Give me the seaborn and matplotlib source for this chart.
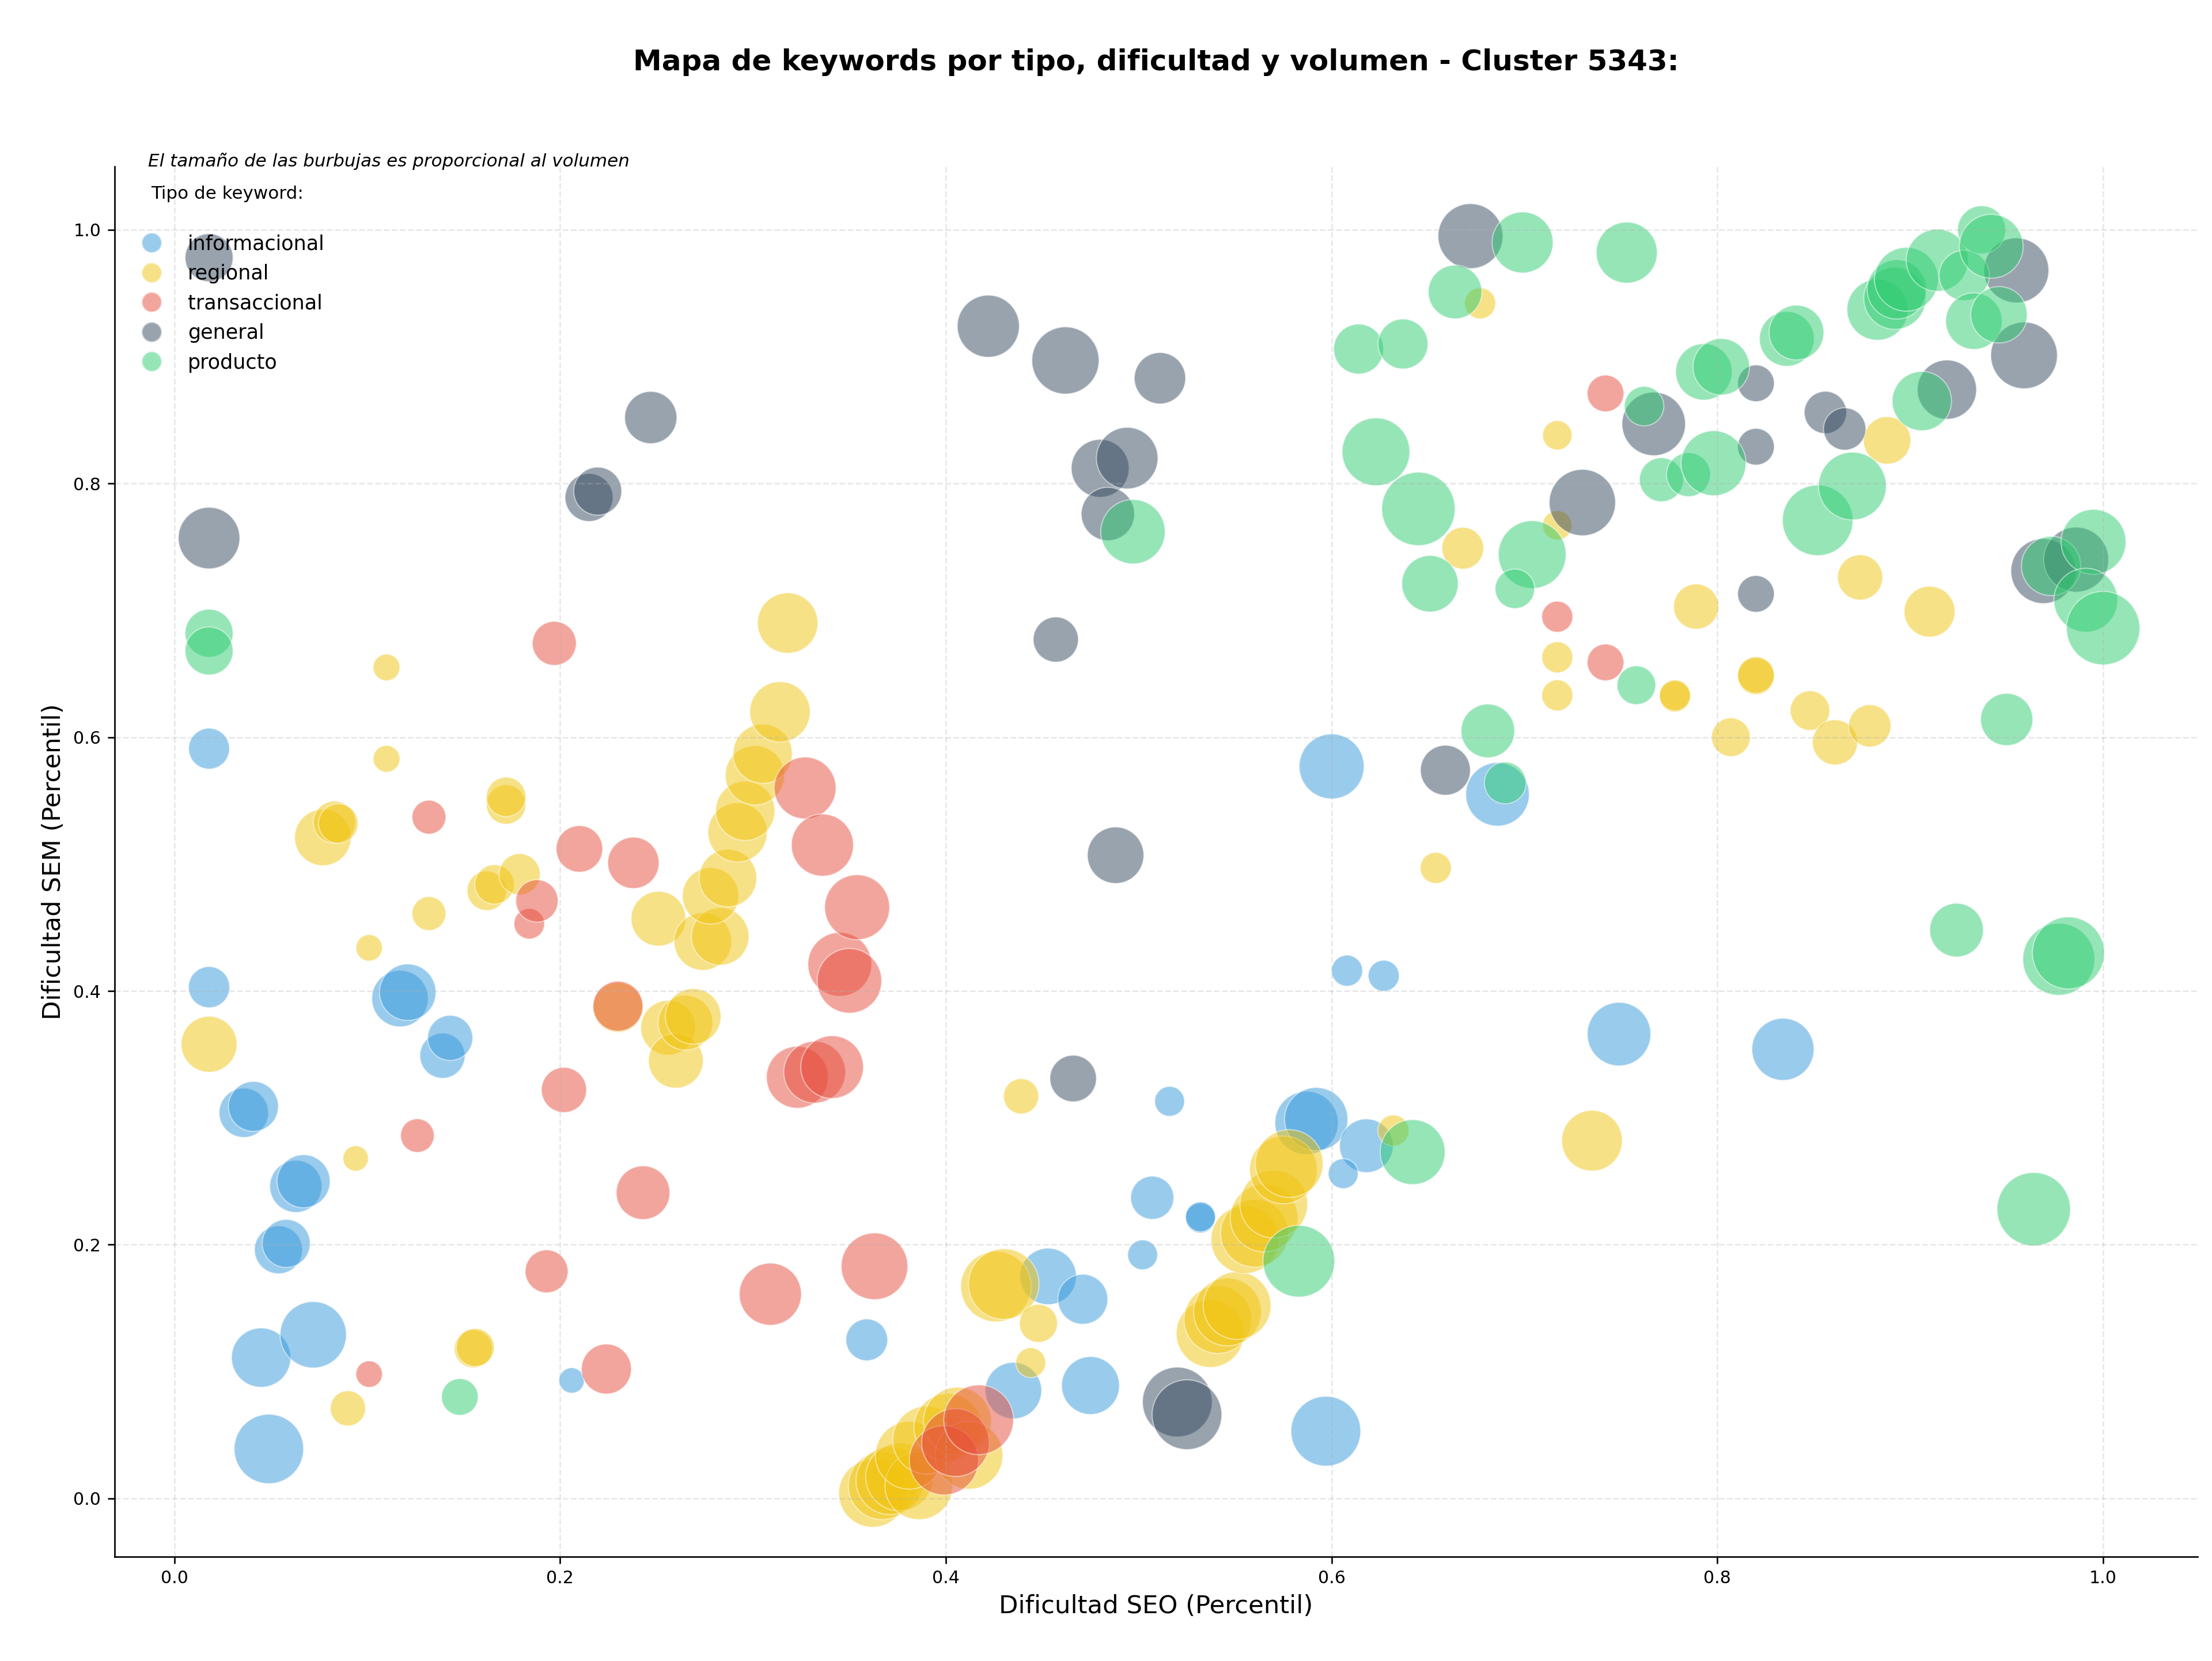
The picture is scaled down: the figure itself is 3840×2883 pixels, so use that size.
import numpy as np
import pandas as pd
import matplotlib
matplotlib.use('Agg')
import matplotlib.pyplot as plt
from matplotlib.lines import Line2D
import seaborn as sns

# keywords per tipo: dificultad SEO, dificultad SEM (percentiles) y volumen
info_seo = [0.018, 0.018, 0.036, 0.041, 0.063, 0.067, 0.054, 0.058, 0.045, 0.072, 0.049, 0.117, 0.121,
            0.139, 0.143, 0.206, 0.359, 0.435, 0.453, 0.471, 0.475, 0.502, 0.507, 0.516, 0.532, 0.532,
            0.587, 0.592, 0.618, 0.606, 0.597, 0.600, 0.608, 0.627, 0.686, 0.749, 0.834]
info_sem = [0.591, 0.403, 0.304, 0.309, 0.246, 0.250, 0.196, 0.201, 0.111, 0.129, 0.039, 0.394, 0.399,
            0.349, 0.363, 0.093, 0.125, 0.085, 0.175, 0.157, 0.089, 0.192, 0.237, 0.313, 0.221, 0.222,
            0.296, 0.299, 0.278, 0.256, 0.053, 0.577, 0.416, 0.412, 0.555, 0.366, 0.354]
info_vol = [2100, 2130, 3060, 3130, 3420, 3530, 2890, 2890, 4410, 5520, 6050, 4000, 4000,
            2560, 2560, 810, 2190, 4000, 4000, 3130, 4200, 1120, 2340, 1120, 1120, 1120,
            5020, 5020, 3610, 1120, 6100, 5290, 1210, 1210, 5060, 5060, 4840]

reg_seo = [0.018, 0.077, 0.083, 0.085, 0.090, 0.094, 0.101, 0.110, 0.110, 0.132, 0.155, 0.156, 0.162,
           0.166, 0.172, 0.172, 0.179, 0.230, 0.251, 0.256, 0.260, 0.265, 0.269, 0.274, 0.283, 0.278,
           0.287, 0.292, 0.296, 0.301, 0.305, 0.314, 0.318, 0.362, 0.367, 0.371, 0.376, 0.386, 0.381,
           0.390, 0.401, 0.406, 0.412, 0.426, 0.430, 0.439, 0.444, 0.448, 0.537, 0.541, 0.546, 0.551,
           0.555, 0.560, 0.565, 0.570, 0.575, 0.578, 0.632, 0.654, 0.668, 0.677, 0.717, 0.717, 0.717,
           0.717, 0.735, 0.778, 0.778, 0.789, 0.807, 0.820, 0.820, 0.848, 0.861, 0.879, 0.874, 0.888,
           0.910]
reg_sem = [0.358, 0.521, 0.533, 0.532, 0.071, 0.268, 0.434, 0.655, 0.583, 0.461, 0.118, 0.119, 0.479,
           0.484, 0.547, 0.553, 0.492, 0.387, 0.457, 0.371, 0.345, 0.375, 0.380, 0.439, 0.443, 0.475,
           0.489, 0.525, 0.542, 0.570, 0.587, 0.620, 0.690, 0.004, 0.010, 0.014, 0.017, 0.010, 0.034,
           0.046, 0.056, 0.061, 0.034, 0.167, 0.169, 0.317, 0.107, 0.138, 0.130, 0.141, 0.147, 0.152,
           0.204, 0.209, 0.221, 0.232, 0.259, 0.264, 0.290, 0.497, 0.749, 0.942, 0.633, 0.663, 0.767,
           0.838, 0.282, 0.632, 0.633, 0.703, 0.600, 0.648, 0.649, 0.621, 0.596, 0.609, 0.726, 0.834,
           0.699]
reg_vol = [3920, 4000, 2250, 1960, 1560, 810, 880, 900, 900, 1440, 1820, 1820, 1960,
           1960, 1960, 1960, 2130, 3130, 3760, 3760, 3760, 3760, 3880, 4160, 4160, 4000,
           4160, 4410, 4410, 4410, 4410, 4580, 4580, 5760, 5760, 5760, 5760, 5760, 5760,
           5760, 5760, 5760, 5760, 6250, 6250, 1560, 1120, 1820, 5760, 5760, 5760, 5760,
           5760, 5760, 5760, 5760, 5760, 5760, 1210, 1210, 2190, 1210, 1210, 1210, 1080,
           1080, 4620, 1210, 1210, 2560, 1880, 1690, 1690, 1960, 2560, 2250, 2560, 2820,
           3240]

trans_seo = [0.101, 0.126, 0.132, 0.184, 0.188, 0.193, 0.197, 0.202, 0.210, 0.224, 0.230, 0.238, 0.243,
             0.309, 0.323, 0.332, 0.341, 0.327, 0.336, 0.345, 0.350, 0.354, 0.363, 0.399, 0.405, 0.417,
             0.717, 0.742, 0.742]
trans_sem = [0.098, 0.286, 0.537, 0.453, 0.471, 0.179, 0.674, 0.322, 0.512, 0.102, 0.388, 0.501, 0.241,
             0.161, 0.332, 0.336, 0.340, 0.560, 0.515, 0.421, 0.408, 0.466, 0.183, 0.030, 0.044, 0.062,
             0.695, 0.659, 0.871]
trans_vol = [880, 1420, 1440, 1170, 2250, 2310, 2430, 2560, 2720, 3130, 3130, 3310, 3610,
             4840, 4800, 4800, 4930, 4800, 4840, 5110, 5240, 5290, 5570, 6000, 5760, 6100,
             1210, 1690, 1690]

gen_seo = [0.018, 0.018, 0.215, 0.2195, 0.247, 0.422, 0.462, 0.511, 0.480, 0.494, 0.484, 0.457, 0.488,
           0.466, 0.520, 0.525, 0.659, 0.672, 0.730, 0.767, 0.820, 0.820, 0.820, 0.856, 0.866, 0.919,
           0.955, 0.959, 0.969, 0.986]
gen_sem = [0.978, 0.757, 0.789, 0.794, 0.852, 0.924, 0.897, 0.883, 0.812, 0.820, 0.776, 0.677, 0.507,
           0.331, 0.076, 0.066, 0.574, 0.995, 0.785, 0.847, 0.879, 0.829, 0.713, 0.856, 0.843, 0.874,
           0.968, 0.901, 0.731, 0.740]
gen_vol = [2890, 4750, 2890, 2890, 3420, 4840, 5660, 3310, 4200, 4750, 3570, 2560, 4000,
           2720, 6100, 6100, 3130, 5290, 5520, 5060, 1690, 1690, 1690, 2250, 2250, 4410,
           5290, 5570, 5290, 5290]

prod_seo = [0.018, 0.018, 0.148, 0.497, 0.583, 0.642, 0.614, 0.637, 0.623, 0.645, 0.651, 0.664, 0.699,
            0.753, 0.704, 0.695, 0.681, 0.690, 0.758, 0.762, 0.771, 0.785, 0.798, 0.793, 0.802, 0.836,
            0.841, 0.852, 0.870, 0.883, 0.892, 0.893, 0.898, 0.906, 0.914, 0.928, 0.933, 0.937, 0.942,
            0.946, 0.950, 0.924, 0.973, 0.995, 0.991, 1.000, 0.977, 0.982, 0.964]
prod_sem = [0.682, 0.668, 0.080, 0.762, 0.187, 0.273, 0.906, 0.910, 0.825, 0.780, 0.721, 0.951, 0.990,
            0.982, 0.744, 0.717, 0.605, 0.564, 0.641, 0.861, 0.803, 0.807, 0.816, 0.888, 0.892, 0.914,
            0.919, 0.771, 0.798, 0.937, 0.946, 0.953, 0.961, 0.865, 0.976, 0.964, 0.928, 1.000, 0.987,
            0.933, 0.614, 0.448, 0.735, 0.754, 0.708, 0.686, 0.425, 0.430, 0.228]
prod_vol = [2890, 2890, 1690, 5200, 6450, 5290, 3130, 3130, 5760, 6760, 4000, 3610, 4670,
            4670, 5760, 1960, 3610, 2190, 1880, 1960, 2430, 2430, 5290, 4000, 4000, 3760,
            3760, 6250, 5760, 4670, 4840, 4410, 5110, 4410, 4840, 3170, 4000, 2890, 5110,
            4000, 3420, 3610, 4410, 5290, 5110, 6760, 6500, 6500, 6760]

tipos = ['informacional', 'regional', 'transaccional', 'general', 'producto']
colores = ['#3498db', '#f1c40f', '#e74c3c', '#34495e', '#2ecc71']

frames = []
for tipo, seo, sem, vol in zip(tipos,
                               [info_seo, reg_seo, trans_seo, gen_seo, prod_seo],
                               [info_sem, reg_sem, trans_sem, gen_sem, prod_sem],
                               [info_vol, reg_vol, trans_vol, gen_vol, prod_vol]):
    frames.append(pd.DataFrame({'seo': seo, 'sem': sem, 'volumen': vol, 'tipo': tipo}))
df = pd.concat(frames, ignore_index=True)

# area of bubble (pt^2) proportional to volume
k = 0.216
vmin, vmax = df.volumen.min(), df.volumen.max()

fig, ax = plt.subplots(figsize=(16, 12.0125), dpi=240)
fig.subplots_adjust(left=0.0517, right=0.9936, bottom=0.0629, top=0.8997)

sns.scatterplot(data=df, x='seo', y='sem', hue='tipo', hue_order=tipos,
                palette=dict(zip(tipos, colores)), size='volumen',
                sizes=(vmin * k, vmax * k), size_norm=(vmin, vmax),
                alpha=0.5, edgecolor='white', linewidth=0.6, legend=False, ax=ax)

ax.set_title('Mapa de keywords por tipo, dificultad y volumen - Cluster 5343:',
             fontsize=15, fontweight='bold', pad=50)
ax.set_xlabel('Dificultad SEO (Percentil)', fontsize=13)
ax.set_ylabel('Dificultad SEM (Percentil)', fontsize=13)
ax.tick_params(labelsize=9)
ax.grid(True, linestyle='--', alpha=0.3)
sns.despine(ax=ax)

ax.text(0.0162, 1.0, 'El tamaño de las burbujas es proporcional al volumen',
        transform=ax.transAxes, fontsize=9.3, style='italic', va='baseline')
ax.text(0.0176, 0.9767, 'Tipo de keyword:', transform=ax.transAxes, fontsize=9.3, va='baseline')

handles = [Line2D([], [], marker='o', linestyle='', markersize=10.5, markerfacecolor=c,
                  markeredgecolor='white', alpha=0.5, label=t) for t, c in zip(tipos, colores)]
ax.legend(handles=handles, loc='upper left', bbox_to_anchor=(0.0043, 0.9571),
          borderaxespad=0, frameon=False, fontsize=10.5)

fig.savefig('out.png', dpi=240)
